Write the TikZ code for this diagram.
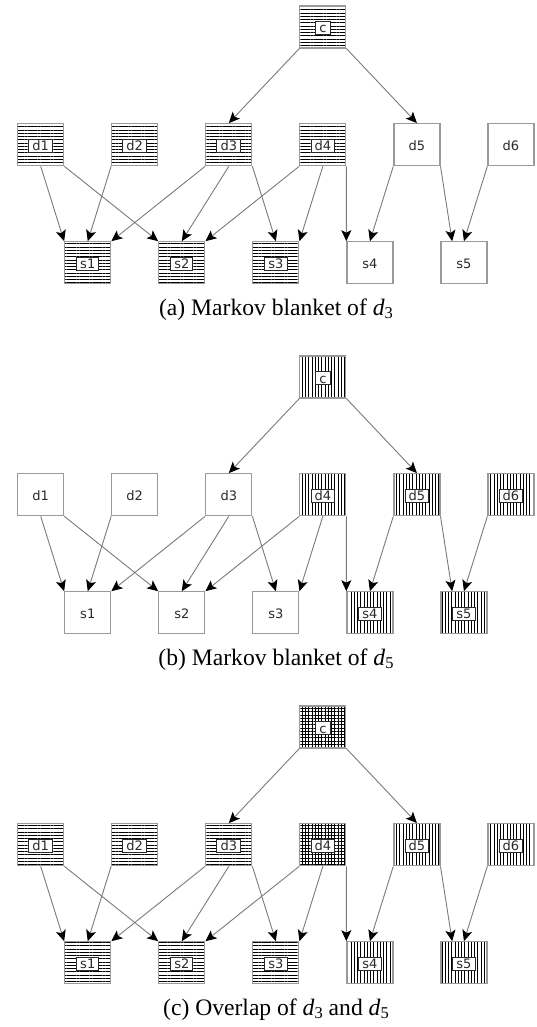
\documentclass[tikz,border=0pt]{standalone}
\usepackage{fontspec}
\setmainfont{Liberation Serif}
\newfontfamily\labfont{DejaVu Sans}
\usetikzlibrary{arrows.meta,patterns.meta,calc}
\definecolor{boxgray}{HTML}{9A9A9A}
\definecolor{edgegray}{HTML}{7A7A7A}
\definecolor{labink}{HTML}{2A2A2A}
\tikzset{
 basebox/.style={draw=boxgray,line width=1.2pt,minimum width=46pt,minimum height=42pt,inner sep=0pt},
 plainbox/.style={basebox,fill=white},
 hbox/.style={basebox,pattern={Lines[angle=0,distance=3.25pt,line width=0.85pt]},pattern color=black},
 vbox/.style={basebox,pattern={Lines[angle=90,distance=3.25pt,line width=0.85pt]},pattern color=black},
 xbox/.style={basebox,pattern={Hatch[angle=0,distance=3.25pt,line width=0.85pt]},pattern color=black},
 plainlab/.style={font=\labfont\fontsize{13}{14}\selectfont,text=labink,inner sep=0pt,yshift=-1.2pt},
 framedlab/.style={plainlab,fill=white,draw=labink,line width=0.9pt,inner xsep=3.6pt,inner ysep=1.5pt,text height=9.6pt,text depth=0pt},
 hlab/.style={framedlab}, vlab/.style={framedlab}, xlab/.style={framedlab},
 edge/.style={draw=edgegray,line width=0.9pt,-{Stealth[length=11pt,width=10pt,inset=2.5pt,color=black]}},
 caption/.style={font=\fontsize{23.6}{27}\selectfont,anchor=base}
}
\newcommand\mkn[5]{%
 \node[#5box] (#1) at (#2,#3) {};
 \node[#5lab] (#1t) at (#1) {#4};}
\newcommand\subd[1]{\textit{d}\raisebox{-3.5pt}{\fontsize{16.5}{17}\selectfont #1}}
\newcommand\mkedges[1]{%
 \draw[edge] (#1c.south west) -- (#1d3.north);
 \draw[edge] (#1c.south east) -- (#1d5.north);
 \draw[edge] (#1d1.south) -- (#1s1.north west);
 \draw[edge] (#1d1.south east) -- (#1s2.north west);
 \draw[edge] (#1d2.south west) -- (#1s1.north);
 \draw[edge] (#1d3.south west) -- (#1s1.north east);
 \draw[edge] (#1d3.south) -- (#1s2.north);
 \draw[edge] (#1d3.south east) -- (#1s3.north);
 \draw[edge] (#1d4.south west) -- (#1s2.north east);
 \draw[edge] (#1d4.south) -- (#1s3.north east);
 \draw[edge] (#1d4.south east) -- (#1s4.north west);
 \draw[edge] (#1d5.south west) -- (#1s4.north);
 \draw[edge] (#1d5.south east) -- ($(#1s5.north west)!0.25!(#1s5.north east)$);
 \draw[edge] (#1d6.south west) -- (#1s5.north);
}
\begin{document}
\begin{tikzpicture}[x=1pt,y=-1pt]
\useasboundingbox (0,0) rectangle (536,1027);
% ---------- panel (a)
\mkn{ac}{322.85}{27}{c}{h}
\foreach \i/\k in {1/h,2/h,3/h,4/h,5/plain,6/plain}{
  \pgfmathsetmacro\xx{40.7+94.05*(\i-1)}
  \mkn{ad\i}{\xx}{144.7}{d\i}{\k}}
\foreach \i/\k in {1/h,2/h,3/h,4/plain,5/plain}{
  \pgfmathsetmacro\xx{87.75+94.05*(\i-1)}
  \mkn{as\i}{\xx}{262.8}{s\i}{\k}}
\mkedges{a}
\node[caption] (capa) at (276,315) {(a) Markov blanket of \subd{3}};
% ---------- panel (b)
\mkn{bc}{322.85}{377}{c}{v}
\foreach \i/\k in {1/plain,2/plain,3/plain,4/v,5/v,6/v}{
  \pgfmathsetmacro\xx{40.7+94.05*(\i-1)}
  \mkn{bd\i}{\xx}{494.7}{d\i}{\k}}
\foreach \i/\k in {1/plain,2/plain,3/plain,4/v,5/v}{
  \pgfmathsetmacro\xx{87.75+94.05*(\i-1)}
  \mkn{bs\i}{\xx}{612.8}{s\i}{\k}}
\mkedges{b}
\node[caption] (capb) at (276,665) {(b) Markov blanket of \subd{5}};
% ---------- panel (c)
\mkn{cc}{322.85}{727}{c}{x}
\foreach \i/\k in {1/h,2/h,3/h,4/x,5/v,6/v}{
  \pgfmathsetmacro\xx{40.7+94.05*(\i-1)}
  \mkn{cd\i}{\xx}{844.7}{d\i}{\k}}
\foreach \i/\k in {1/h,2/h,3/h,4/v,5/v}{
  \pgfmathsetmacro\xx{87.75+94.05*(\i-1)}
  \mkn{cs\i}{\xx}{962.8}{s\i}{\k}}
\mkedges{c}
\node[caption] (capc) at (276,1015) {(c) Overlap of \subd{3} and \subd{5}};
\end{tikzpicture}
\end{document}
